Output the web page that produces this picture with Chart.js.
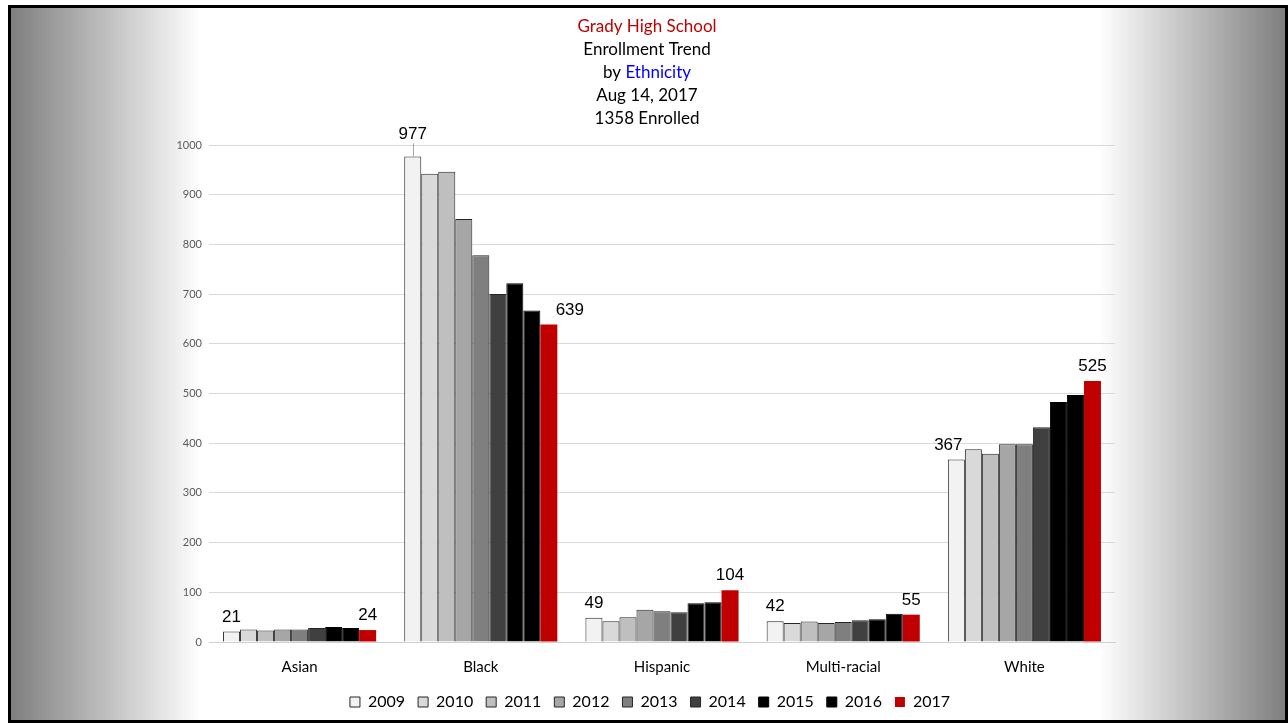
<!DOCTYPE html>
<html><head><meta charset="utf-8">
<script src="https://cdn.jsdelivr.net/npm/chart.js@4"></script>
<style>
html,body{margin:0;padding:0;background:#fff;overflow:hidden;}
#frame{position:absolute;left:8px;top:5px;width:1274px;height:712px;border:3px solid #000;
background:linear-gradient(to right,#7f7f7f 0px,#ffffff 190px,#ffffff 1088px,#7f7f7f 1274px);}
#c{position:absolute;left:0;top:0;}
</style></head><body>
<div id="frame"></div>
<canvas id="c" width="1288" height="723"></canvas>
<script>
const categories = ['Asian','Black','Hispanic','Multi-racial','White'];
const years = ['2009','2010','2011','2012','2013','2014','2015','2016','2017'];
const v2009 = [21, 977, 49, 42, 367];
const v2010 = [25, 942, 42, 38, 388];
const v2011 = [23, 946, 50, 41, 379];
const v2012 = [25, 851, 65, 38, 398];
const v2013 = [25, 778, 62, 40, 398];
const v2014 = [28, 700, 60, 44, 432];
const v2015 = [30, 722, 78, 46, 483];
const v2016 = [28, 667, 80, 57, 497];
const v2017 = [24, 639, 104, 55, 525];
const yMin = 0, yMax = 1000, yStep = 100;

const seriesValues = [v2009, v2010, v2011, v2012, v2013, v2014, v2015, v2016, v2017];
const fillColors = ['#f2f2f2','#d9d9d9','#bfbfbf','#a6a6a6','#7f7f7f','#404040','#000000','#000000','#c00000'];
const edgeColors = ['#262626','#262626','#262626','#262626','#262626','#262626','#000000','#000000','#c00000'];

const titleLines = [
  [{t:'Grady High School', c:'#c00000'}],
  [{t:'Enrollment Trend', c:'#000000'}],
  [{t:'by ', c:'#000000'}, {t:'Ethnicity', c:'#0000ff'}],
  [{t:'Aug 14, 2017', c:'#000000'}],
  [{t:'1358 Enrolled', c:'#000000'}]
];

// label adjustments keyed "dataset-index"
const labelAdjust = {
  '0-1': {dx:0, dy:-8, leader:true},
  '8-1': {dx:21, dy:0},
  '0-4': {dx:-8, dy:0}
};

const titlePlugin = {
  id:'titleLines',
  afterDraw(chart){
    const ctx = chart.ctx;
    ctx.save();
    ctx.font = '17px Lato';
    ctx.textBaseline = 'middle';
    ctx.textAlign = 'left';
    const cx = chart.width/2 + 3;
    titleLines.forEach((parts, i) => {
      const y = 27 + i*23;
      const total = parts.reduce((s,p)=>s+ctx.measureText(p.t).width,0);
      let x = cx - total/2;
      parts.forEach(p => { ctx.fillStyle = p.c; ctx.fillText(p.t, x, y); x += ctx.measureText(p.t).width; });
    });
    ctx.restore();
  }
};

const labelPlugin = {
  id:'endLabels',
  afterDatasetsDraw(chart){
    const ctx = chart.ctx;
    ctx.save();
    ctx.font = '17px "Liberation Sans", Arial';
    ctx.fillStyle = '#000';
    ctx.textAlign = 'center';
    ctx.textBaseline = 'bottom';
    const last = chart.data.datasets.length - 1;
    [0, last].forEach(di => {
      const meta = chart.getDatasetMeta(di);
      meta.data.forEach((bar, idx) => {
        const adj = labelAdjust[di+'-'+idx] || {dx:0, dy:0};
        const x = bar.x + adj.dx;
        const y = bar.y - 6 + adj.dy;
        ctx.fillText(String(chart.data.datasets[di].data[idx]), x, y);
        if (adj.leader) {
          ctx.strokeStyle = '#a6a6a6';
          ctx.lineWidth = 1;
          ctx.beginPath();
          ctx.moveTo(Math.round(bar.x)+0.5, y + 1);
          ctx.lineTo(Math.round(bar.x)+0.5, bar.y);
          ctx.stroke();
        }
      });
    });
    ctx.restore();
  }
};

const legendShift = {
  id:'legendShift',
  afterLayout(chart){
    if (chart.legend) { chart.legend.left += 8; chart.legend.right += 8; }
  }
};

new Chart(document.getElementById('c'), {
  type:'bar',
  data:{
    labels: categories,
    datasets: years.map((y,i)=>({
      label: y,
      data: seriesValues[i],
      backgroundColor: fillColors[i],
      borderColor: edgeColors[i],
      borderWidth: i === 8 ? 0 : 1,
      barPercentage: 1.0,
      categoryPercentage: 0.845
    }))
  },
  options:{
    responsive:false,
    animation:false,
    layout:{padding:{top:145, left:169, right:173, bottom:3}},
    plugins:{
      title:{display:false},
      tooltip:{enabled:false},
      legend:{
        position:'bottom',
        labels:{
          font:{family:'Lato', size:16},
          color:'#000',
          boxWidth:10, boxHeight:10,
          padding:13
        }
      }
    },
    scales:{
      x:{
        grid:{display:false, drawTicks:false},
        border:{display:true, color:'#d0d0d0', width:1},
        ticks:{font:{family:'Lato', size:15}, color:'#000', padding:16},
        afterFit(s){ s.height = 39; }
      },
      y:{
        min:yMin, max:yMax,
        grid:{color:'#d9d9d9', lineWidth:1, drawTicks:false},
        border:{display:false},
        ticks:{stepSize:yStep, font:{family:'Lato', size:11}, color:'#595959', padding:7,
          callback:(v)=>String(v)},
        afterFit(s){ s.width = 40; }
      }
    }
  },
  plugins:[titlePlugin, labelPlugin, legendShift]
});
</script>
</body></html>
